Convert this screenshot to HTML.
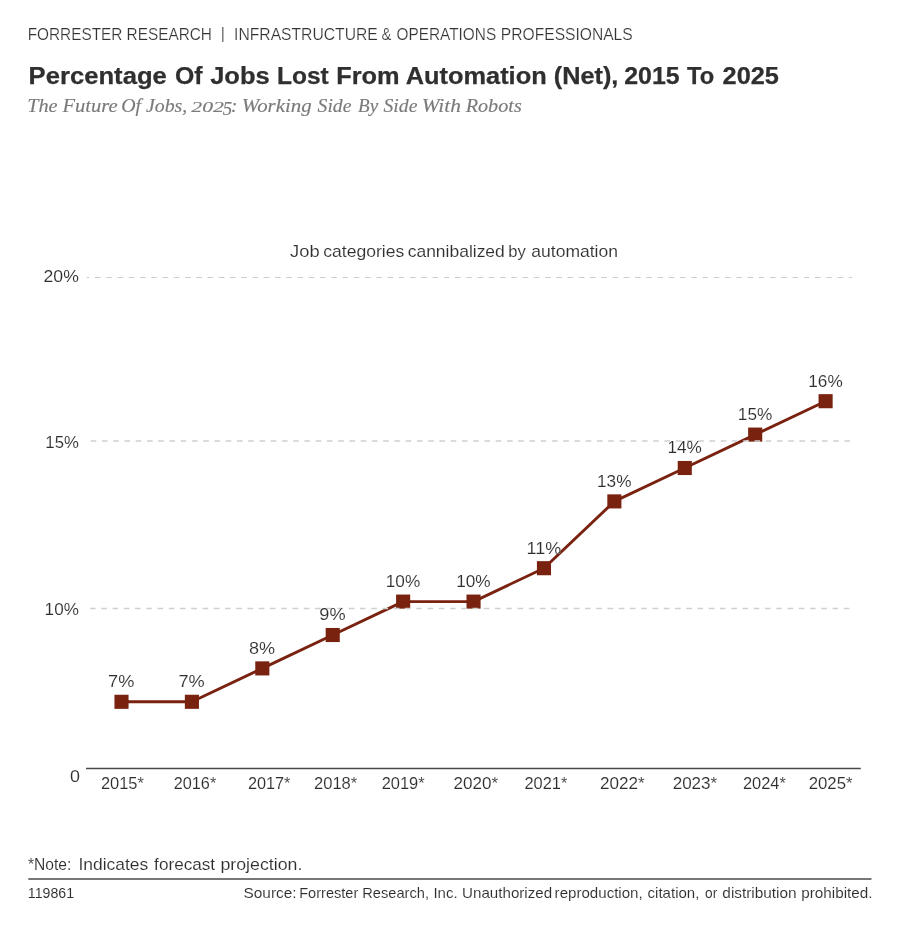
<!DOCTYPE html>
<html lang="en">
<head>
<meta charset="utf-8">
<title>Percentage Of Jobs Lost From Automation (Net), 2015 To 2025</title>
<style>
html,body{margin:0;padding:0;background:#ffffff;}
body{width:900px;height:930px;overflow:hidden;font-family:"Liberation Sans",sans-serif;}
svg{display:block;}
text{white-space:pre;}
</style>
</head>
<body>
<svg width="900" height="930" viewBox="0 0 900 930">
<rect x="0" y="0" width="900" height="930" fill="#ffffff"/>
<g>
<polyline points="121.50,701.80 191.91,701.80 262.32,668.40 332.73,635.00 403.14,601.60 473.55,601.60 543.96,568.20 614.37,501.40 684.78,468.00 755.19,434.60 825.60,401.20" fill="none" stroke="#7a2210" stroke-width="2.9" stroke-linejoin="round"/>
<rect x="114.45" y="694.75" width="14.1" height="14.1" fill="#7a2210"/>
<rect x="184.86" y="694.75" width="14.1" height="14.1" fill="#7a2210"/>
<rect x="255.27" y="661.35" width="14.1" height="14.1" fill="#7a2210"/>
<rect x="325.68" y="627.95" width="14.1" height="14.1" fill="#7a2210"/>
<rect x="396.09" y="594.55" width="14.1" height="14.1" fill="#7a2210"/>
<rect x="466.50" y="594.55" width="14.1" height="14.1" fill="#7a2210"/>
<rect x="536.91" y="561.15" width="14.1" height="14.1" fill="#7a2210"/>
<rect x="607.32" y="494.35" width="14.1" height="14.1" fill="#7a2210"/>
<rect x="677.73" y="460.95" width="14.1" height="14.1" fill="#7a2210"/>
<rect x="748.14" y="427.55" width="14.1" height="14.1" fill="#7a2210"/>
<rect x="818.55" y="394.15" width="14.1" height="14.1" fill="#7a2210"/>
</g>
<g style="filter:grayscale(1)">
<text x="27.67" y="39.60" font-size="15.8" fill="#333333" font-family='"Liberation Sans", sans-serif' font-weight="normal" font-style="normal" textLength="184.28" lengthAdjust="spacingAndGlyphs" stroke="#ffffff" stroke-width="0.2">FORRESTER RESEARCH</text>
<text x="220.68" y="39.30" font-size="15.8" fill="#666666" font-family='"Liberation Sans", sans-serif' font-weight="normal" font-style="normal">|</text>
<text x="234.09" y="39.60" font-size="15.8" fill="#333333" font-family='"Liberation Sans", sans-serif' font-weight="normal" font-style="normal" textLength="143.64" lengthAdjust="spacingAndGlyphs" stroke="#ffffff" stroke-width="0.2">INFRASTRUCTURE</text>
<text x="381.41" y="39.60" font-size="15.8" fill="#333333" font-family='"Liberation Sans", sans-serif' font-weight="normal" font-style="normal" textLength="9.84" lengthAdjust="spacingAndGlyphs" stroke="#ffffff" stroke-width="0.2">&amp;</text>
<text x="396.53" y="39.60" font-size="15.8" fill="#333333" font-family='"Liberation Sans", sans-serif' font-weight="normal" font-style="normal" textLength="99.62" lengthAdjust="spacingAndGlyphs" stroke="#ffffff" stroke-width="0.2">OPERATIONS</text>
<text x="500.85" y="39.60" font-size="15.8" fill="#333333" font-family='"Liberation Sans", sans-serif' font-weight="normal" font-style="normal" textLength="131.88" lengthAdjust="spacingAndGlyphs" stroke="#ffffff" stroke-width="0.2">PROFESSIONALS</text>
<text x="28.61" y="83.90" font-size="23" fill="#2f2f2f" font-family='"Liberation Sans", sans-serif' font-weight="bold" font-style="normal" textLength="138.21" lengthAdjust="spacingAndGlyphs" stroke="#2f2f2f" stroke-width="0.25">Percentage</text>
<text x="175.01" y="83.90" font-size="23" fill="#2f2f2f" font-family='"Liberation Sans", sans-serif' font-weight="bold" font-style="normal" textLength="27.62" lengthAdjust="spacingAndGlyphs" stroke="#2f2f2f" stroke-width="0.25">Of</text>
<text x="210.19" y="83.90" font-size="23" fill="#2f2f2f" font-family='"Liberation Sans", sans-serif' font-weight="bold" font-style="normal" textLength="59.43" lengthAdjust="spacingAndGlyphs" stroke="#2f2f2f" stroke-width="0.25">Jobs</text>
<text x="277.09" y="83.90" font-size="23" fill="#2f2f2f" font-family='"Liberation Sans", sans-serif' font-weight="bold" font-style="normal" textLength="51.68" lengthAdjust="spacingAndGlyphs" stroke="#2f2f2f" stroke-width="0.25">Lost</text>
<text x="336.23" y="83.90" font-size="23" fill="#2f2f2f" font-family='"Liberation Sans", sans-serif' font-weight="bold" font-style="normal" textLength="63.29" lengthAdjust="spacingAndGlyphs" stroke="#2f2f2f" stroke-width="0.25">From</text>
<text x="405.74" y="83.90" font-size="23" fill="#2f2f2f" font-family='"Liberation Sans", sans-serif' font-weight="bold" font-style="normal" textLength="140.90" lengthAdjust="spacingAndGlyphs" stroke="#2f2f2f" stroke-width="0.25">Automation</text>
<text x="553.74" y="83.90" font-size="23" fill="#2f2f2f" font-family='"Liberation Sans", sans-serif' font-weight="bold" font-style="normal" textLength="64.62" lengthAdjust="spacingAndGlyphs" stroke="#2f2f2f" stroke-width="0.25">(Net),</text>
<text x="624.25" y="83.90" font-size="23" fill="#2f2f2f" font-family='"Liberation Sans", sans-serif' font-weight="bold" font-style="normal" textLength="55.36" lengthAdjust="spacingAndGlyphs" stroke="#2f2f2f" stroke-width="0.25">2015</text>
<text x="687.06" y="83.90" font-size="23" fill="#2f2f2f" font-family='"Liberation Sans", sans-serif' font-weight="bold" font-style="normal" textLength="27.12" lengthAdjust="spacingAndGlyphs" stroke="#2f2f2f" stroke-width="0.25">To</text>
<text x="722.54" y="83.90" font-size="23" fill="#2f2f2f" font-family='"Liberation Sans", sans-serif' font-weight="bold" font-style="normal" textLength="56.39" lengthAdjust="spacingAndGlyphs" stroke="#2f2f2f" stroke-width="0.25">2025</text>
<text x="27.18" y="112.20" font-size="19" fill="#7a7a7a" font-family='"Liberation Serif", serif' font-weight="normal" font-style="italic" textLength="30.43" lengthAdjust="spacingAndGlyphs" stroke="#7a7a7a" stroke-width="0.15">The</text>
<text x="62.40" y="112.20" font-size="19" fill="#7a7a7a" font-family='"Liberation Serif", serif' font-weight="normal" font-style="italic" textLength="55.21" lengthAdjust="spacingAndGlyphs" stroke="#7a7a7a" stroke-width="0.15">Future</text>
<text x="121.31" y="112.20" font-size="19" fill="#7a7a7a" font-family='"Liberation Serif", serif' font-weight="normal" font-style="italic" textLength="19.81" lengthAdjust="spacingAndGlyphs" stroke="#7a7a7a" stroke-width="0.15">Of</text>
<text x="146.00" y="112.20" font-size="19" fill="#7a7a7a" font-family='"Liberation Serif", serif' font-weight="normal" font-style="italic" textLength="41.25" lengthAdjust="spacingAndGlyphs" stroke="#7a7a7a" stroke-width="0.15">Jobs,</text>
<text x="241.74" y="112.20" font-size="19" fill="#7a7a7a" font-family='"Liberation Serif", serif' font-weight="normal" font-style="italic" textLength="69.93" lengthAdjust="spacingAndGlyphs" stroke="#7a7a7a" stroke-width="0.15">Working</text>
<text x="317.60" y="112.20" font-size="19" fill="#7a7a7a" font-family='"Liberation Serif", serif' font-weight="normal" font-style="italic" textLength="33.82" lengthAdjust="spacingAndGlyphs" stroke="#7a7a7a" stroke-width="0.15">Side</text>
<text x="358.01" y="112.20" font-size="19" fill="#7a7a7a" font-family='"Liberation Serif", serif' font-weight="normal" font-style="italic" textLength="20.08" lengthAdjust="spacingAndGlyphs" stroke="#7a7a7a" stroke-width="0.15">By</text>
<text x="383.50" y="112.20" font-size="19" fill="#7a7a7a" font-family='"Liberation Serif", serif' font-weight="normal" font-style="italic" textLength="33.92" lengthAdjust="spacingAndGlyphs" stroke="#7a7a7a" stroke-width="0.15">Side</text>
<text x="421.70" y="112.20" font-size="19" fill="#7a7a7a" font-family='"Liberation Serif", serif' font-weight="normal" font-style="italic" textLength="39.23" lengthAdjust="spacingAndGlyphs" stroke="#7a7a7a" stroke-width="0.15">With</text>
<text x="465.70" y="112.20" font-size="19" fill="#7a7a7a" font-family='"Liberation Serif", serif' font-weight="normal" font-style="italic" textLength="56.07" lengthAdjust="spacingAndGlyphs" stroke="#7a7a7a" stroke-width="0.15">Robots</text>
<text x="191.30" y="112.20" font-size="13.8" fill="#7a7a7a" font-family='"Liberation Serif", serif' font-weight="normal" font-style="italic" textLength="32.53" lengthAdjust="spacingAndGlyphs" stroke="#7a7a7a" stroke-width="0.15">202</text>
<text x="222.82" y="115.20" font-size="19" fill="#7a7a7a" font-family='"Liberation Serif", serif' font-weight="normal" font-style="italic" textLength="9.44" lengthAdjust="spacingAndGlyphs" stroke="#7a7a7a" stroke-width="0.15">5</text>
<text x="230.97" y="112.20" font-size="19" fill="#7a7a7a" font-family='"Liberation Serif", serif' font-weight="normal" font-style="italic" stroke="#7a7a7a" stroke-width="0.15">:</text>
<text x="290.13" y="257.20" font-size="17" fill="#2e2e2e" font-family='"Liberation Sans", sans-serif' font-weight="normal" font-style="normal" textLength="29.54" lengthAdjust="spacingAndGlyphs" stroke="#ffffff" stroke-width="0.12">Job</text>
<text x="323.30" y="257.20" font-size="17" fill="#2e2e2e" font-family='"Liberation Sans", sans-serif' font-weight="normal" font-style="normal" textLength="81.00" lengthAdjust="spacingAndGlyphs" stroke="#ffffff" stroke-width="0.12">categories</text>
<text x="407.70" y="257.20" font-size="17" fill="#2e2e2e" font-family='"Liberation Sans", sans-serif' font-weight="normal" font-style="normal" textLength="97.12" lengthAdjust="spacingAndGlyphs" stroke="#ffffff" stroke-width="0.12">cannibalized</text>
<text x="508.34" y="257.20" font-size="17" fill="#2e2e2e" font-family='"Liberation Sans", sans-serif' font-weight="normal" font-style="normal" textLength="17.57" lengthAdjust="spacingAndGlyphs" stroke="#ffffff" stroke-width="0.12">by</text>
<text x="531.30" y="257.20" font-size="17" fill="#2e2e2e" font-family='"Liberation Sans", sans-serif' font-weight="normal" font-style="normal" textLength="86.69" lengthAdjust="spacingAndGlyphs" stroke="#ffffff" stroke-width="0.12">automation</text>
<line x1="86.7" y1="277.5" x2="852" y2="277.5" stroke="#cdcdcd" stroke-width="1.1" stroke-dasharray="5.625 5.625" stroke-dashoffset="2.95"/>
<line x1="86.7" y1="441.0" x2="852" y2="441.0" stroke="#cfcfcf" stroke-width="1.4" stroke-dasharray="5.625 5.625" stroke-dashoffset="7.25"/>
<line x1="86.7" y1="608.5" x2="852" y2="608.5" stroke="#cfcfcf" stroke-width="1.4" stroke-dasharray="5.625 5.625" stroke-dashoffset="7.95"/>
<line x1="86" y1="768.5" x2="860.8" y2="768.5" stroke="#4a4a4a" stroke-width="1.4"/>
<text x="43.52" y="281.70" font-size="17" fill="#2e2e2e" font-family='"Liberation Sans", sans-serif' font-weight="normal" font-style="normal" textLength="35.34" lengthAdjust="spacingAndGlyphs" stroke="#ffffff" stroke-width="0.12">20%</text>
<text x="45.36" y="448.00" font-size="17" fill="#2e2e2e" font-family='"Liberation Sans", sans-serif' font-weight="normal" font-style="normal" textLength="33.47" lengthAdjust="spacingAndGlyphs" stroke="#ffffff" stroke-width="0.12">15%</text>
<text x="44.63" y="614.70" font-size="17" fill="#2e2e2e" font-family='"Liberation Sans", sans-serif' font-weight="normal" font-style="normal" textLength="34.21" lengthAdjust="spacingAndGlyphs" stroke="#ffffff" stroke-width="0.12">10%</text>
<text x="69.98" y="782.20" font-size="17" fill="#2e2e2e" font-family='"Liberation Sans", sans-serif' font-weight="normal" font-style="normal" textLength="9.97" lengthAdjust="spacingAndGlyphs" stroke="#ffffff" stroke-width="0.12">0</text>
<text x="100.88" y="788.90" font-size="17" fill="#2e2e2e" font-family='"Liberation Sans", sans-serif' font-weight="normal" font-style="normal" textLength="43.05" lengthAdjust="spacingAndGlyphs" stroke="#ffffff" stroke-width="0.12">2015*</text>
<text x="173.69" y="788.90" font-size="17" fill="#2e2e2e" font-family='"Liberation Sans", sans-serif' font-weight="normal" font-style="normal" textLength="42.54" lengthAdjust="spacingAndGlyphs" stroke="#ffffff" stroke-width="0.12">2016*</text>
<text x="247.89" y="788.90" font-size="17" fill="#2e2e2e" font-family='"Liberation Sans", sans-serif' font-weight="normal" font-style="normal" textLength="42.54" lengthAdjust="spacingAndGlyphs" stroke="#ffffff" stroke-width="0.12">2017*</text>
<text x="313.97" y="788.90" font-size="17" fill="#2e2e2e" font-family='"Liberation Sans", sans-serif' font-weight="normal" font-style="normal" textLength="43.26" lengthAdjust="spacingAndGlyphs" stroke="#ffffff" stroke-width="0.12">2018*</text>
<text x="381.68" y="788.90" font-size="17" fill="#2e2e2e" font-family='"Liberation Sans", sans-serif' font-weight="normal" font-style="normal" textLength="42.95" lengthAdjust="spacingAndGlyphs" stroke="#ffffff" stroke-width="0.12">2019*</text>
<text x="453.55" y="788.90" font-size="17" fill="#2e2e2e" font-family='"Liberation Sans", sans-serif' font-weight="normal" font-style="normal" textLength="44.59" lengthAdjust="spacingAndGlyphs" stroke="#ffffff" stroke-width="0.12">2020*</text>
<text x="524.48" y="788.90" font-size="17" fill="#2e2e2e" font-family='"Liberation Sans", sans-serif' font-weight="normal" font-style="normal" textLength="42.85" lengthAdjust="spacingAndGlyphs" stroke="#ffffff" stroke-width="0.12">2021*</text>
<text x="600.05" y="788.90" font-size="17" fill="#2e2e2e" font-family='"Liberation Sans", sans-serif' font-weight="normal" font-style="normal" textLength="44.69" lengthAdjust="spacingAndGlyphs" stroke="#ffffff" stroke-width="0.12">2022*</text>
<text x="672.65" y="788.90" font-size="17" fill="#2e2e2e" font-family='"Liberation Sans", sans-serif' font-weight="normal" font-style="normal" textLength="44.59" lengthAdjust="spacingAndGlyphs" stroke="#ffffff" stroke-width="0.12">2023*</text>
<text x="742.88" y="788.90" font-size="17" fill="#2e2e2e" font-family='"Liberation Sans", sans-serif' font-weight="normal" font-style="normal" textLength="42.95" lengthAdjust="spacingAndGlyphs" stroke="#ffffff" stroke-width="0.12">2024*</text>
<text x="808.66" y="788.90" font-size="17" fill="#2e2e2e" font-family='"Liberation Sans", sans-serif' font-weight="normal" font-style="normal" textLength="43.87" lengthAdjust="spacingAndGlyphs" stroke="#ffffff" stroke-width="0.12">2025*</text>
<text x="108.09" y="687.20" font-size="17" fill="#2e2e2e" font-family='"Liberation Sans", sans-serif' font-weight="normal" font-style="normal" textLength="26.25" lengthAdjust="spacingAndGlyphs" stroke="#ffffff" stroke-width="0.12">7%</text>
<text x="178.50" y="687.20" font-size="17" fill="#2e2e2e" font-family='"Liberation Sans", sans-serif' font-weight="normal" font-style="normal" textLength="26.25" lengthAdjust="spacingAndGlyphs" stroke="#ffffff" stroke-width="0.12">7%</text>
<text x="249.10" y="653.80" font-size="17" fill="#2e2e2e" font-family='"Liberation Sans", sans-serif' font-weight="normal" font-style="normal" textLength="26.06" lengthAdjust="spacingAndGlyphs" stroke="#ffffff" stroke-width="0.12">8%</text>
<text x="319.32" y="620.40" font-size="17" fill="#2e2e2e" font-family='"Liberation Sans", sans-serif' font-weight="normal" font-style="normal" textLength="26.25" lengthAdjust="spacingAndGlyphs" stroke="#ffffff" stroke-width="0.12">9%</text>
<text x="385.81" y="587.00" font-size="17" fill="#2e2e2e" font-family='"Liberation Sans", sans-serif' font-weight="normal" font-style="normal" textLength="34.42" lengthAdjust="spacingAndGlyphs" stroke="#ffffff" stroke-width="0.12">10%</text>
<text x="456.22" y="587.00" font-size="17" fill="#2e2e2e" font-family='"Liberation Sans", sans-serif' font-weight="normal" font-style="normal" textLength="34.42" lengthAdjust="spacingAndGlyphs" stroke="#ffffff" stroke-width="0.12">10%</text>
<text x="526.57" y="553.60" font-size="17" fill="#2e2e2e" font-family='"Liberation Sans", sans-serif' font-weight="normal" font-style="normal" textLength="34.61" lengthAdjust="spacingAndGlyphs" stroke="#ffffff" stroke-width="0.12">11%</text>
<text x="597.04" y="486.80" font-size="17" fill="#2e2e2e" font-family='"Liberation Sans", sans-serif' font-weight="normal" font-style="normal" textLength="34.42" lengthAdjust="spacingAndGlyphs" stroke="#ffffff" stroke-width="0.12">13%</text>
<text x="667.45" y="453.40" font-size="17" fill="#2e2e2e" font-family='"Liberation Sans", sans-serif' font-weight="normal" font-style="normal" textLength="34.42" lengthAdjust="spacingAndGlyphs" stroke="#ffffff" stroke-width="0.12">14%</text>
<text x="737.86" y="420.00" font-size="17" fill="#2e2e2e" font-family='"Liberation Sans", sans-serif' font-weight="normal" font-style="normal" textLength="34.42" lengthAdjust="spacingAndGlyphs" stroke="#ffffff" stroke-width="0.12">15%</text>
<text x="808.27" y="386.60" font-size="17" fill="#2e2e2e" font-family='"Liberation Sans", sans-serif' font-weight="normal" font-style="normal" textLength="34.42" lengthAdjust="spacingAndGlyphs" stroke="#ffffff" stroke-width="0.12">16%</text>
<text x="27.99" y="870.30" font-size="17" fill="#2e2e2e" font-family='"Liberation Sans", sans-serif' font-weight="normal" font-style="normal" textLength="43.41" lengthAdjust="spacingAndGlyphs" stroke="#ffffff" stroke-width="0.12">*Note:</text>
<text x="78.43" y="870.30" font-size="17" fill="#2e2e2e" font-family='"Liberation Sans", sans-serif' font-weight="normal" font-style="normal" textLength="69.84" lengthAdjust="spacingAndGlyphs" stroke="#ffffff" stroke-width="0.12">Indicates</text>
<text x="154.13" y="870.30" font-size="17" fill="#2e2e2e" font-family='"Liberation Sans", sans-serif' font-weight="normal" font-style="normal" textLength="60.99" lengthAdjust="spacingAndGlyphs" stroke="#ffffff" stroke-width="0.12">forecast</text>
<text x="220.46" y="870.30" font-size="17" fill="#2e2e2e" font-family='"Liberation Sans", sans-serif' font-weight="normal" font-style="normal" textLength="81.91" lengthAdjust="spacingAndGlyphs" stroke="#ffffff" stroke-width="0.12">projection.</text>
<line x1="28.3" y1="879" x2="871.5" y2="879" stroke="#4a4a4a" stroke-width="1.5"/>
<text x="27.87" y="897.50" font-size="13.8" fill="#2e2e2e" font-family='"Liberation Sans", sans-serif' font-weight="normal" font-style="normal" textLength="46.18" lengthAdjust="spacingAndGlyphs" stroke="#ffffff" stroke-width="0.05">119861</text>
<text x="243.53" y="897.50" font-size="15" fill="#2e2e2e" font-family='"Liberation Sans", sans-serif' font-weight="normal" font-style="normal" textLength="53.05" lengthAdjust="spacingAndGlyphs" stroke="#ffffff" stroke-width="0.1">Source:</text>
<text x="299.24" y="897.50" font-size="15" fill="#2e2e2e" font-family='"Liberation Sans", sans-serif' font-weight="normal" font-style="normal" textLength="59.00" lengthAdjust="spacingAndGlyphs" stroke="#ffffff" stroke-width="0.1">Forrester</text>
<text x="362.23" y="897.50" font-size="15" fill="#2e2e2e" font-family='"Liberation Sans", sans-serif' font-weight="normal" font-style="normal" textLength="66.76" lengthAdjust="spacingAndGlyphs" stroke="#ffffff" stroke-width="0.1">Research,</text>
<text x="433.45" y="897.50" font-size="15" fill="#2e2e2e" font-family='"Liberation Sans", sans-serif' font-weight="normal" font-style="normal" textLength="24.12" lengthAdjust="spacingAndGlyphs" stroke="#ffffff" stroke-width="0.1">Inc.</text>
<text x="462.09" y="897.50" font-size="15" fill="#2e2e2e" font-family='"Liberation Sans", sans-serif' font-weight="normal" font-style="normal" textLength="90.04" lengthAdjust="spacingAndGlyphs" stroke="#ffffff" stroke-width="0.1">Unauthorized</text>
<text x="554.64" y="897.50" font-size="15" fill="#2e2e2e" font-family='"Liberation Sans", sans-serif' font-weight="normal" font-style="normal" textLength="88.07" lengthAdjust="spacingAndGlyphs" stroke="#ffffff" stroke-width="0.1">reproduction,</text>
<text x="647.60" y="897.50" font-size="15" fill="#2e2e2e" font-family='"Liberation Sans", sans-serif' font-weight="normal" font-style="normal" textLength="51.80" lengthAdjust="spacingAndGlyphs" stroke="#ffffff" stroke-width="0.1">citation,</text>
<text x="705.05" y="897.50" font-size="15" fill="#2e2e2e" font-family='"Liberation Sans", sans-serif' font-weight="normal" font-style="normal" textLength="12.21" lengthAdjust="spacingAndGlyphs" stroke="#ffffff" stroke-width="0.1">or</text>
<text x="722.39" y="897.50" font-size="15" fill="#2e2e2e" font-family='"Liberation Sans", sans-serif' font-weight="normal" font-style="normal" textLength="74.23" lengthAdjust="spacingAndGlyphs" stroke="#ffffff" stroke-width="0.1">distribution</text>
<text x="801.33" y="897.50" font-size="15" fill="#2e2e2e" font-family='"Liberation Sans", sans-serif' font-weight="normal" font-style="normal" textLength="71.14" lengthAdjust="spacingAndGlyphs" stroke="#ffffff" stroke-width="0.1">prohibited.</text>
</g>
</svg>
</body>
</html>
